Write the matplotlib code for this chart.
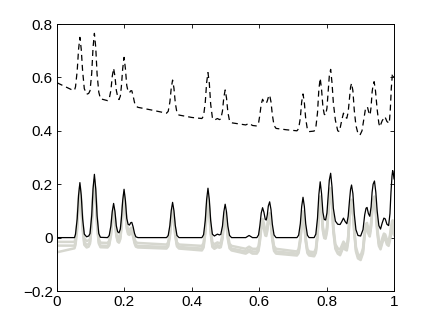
"""
Recreation of the peak / baseline chart (dashed shifted trace, black trace, grey traces)
"""
import matplotlib
matplotlib.use('Agg')
import matplotlib.pyplot as plt

# ---- data ----
# black (solid) trace
x_black = [0.000, 0.052, 0.055, 0.060, 0.064, 0.068, 0.072, 0.076, 0.081, 0.088, 0.094,
           0.098, 0.103, 0.107, 0.111, 0.115, 0.119, 0.124, 0.129, 0.150, 0.155, 0.160,
           0.164, 0.168, 0.172, 0.176, 0.180, 0.184, 0.188, 0.191, 0.195, 0.199, 0.203,
           0.207, 0.211, 0.215, 0.219, 0.222, 0.226, 0.230, 0.234, 0.240,
           0.325, 0.330, 0.335, 0.339, 0.343, 0.347, 0.351, 0.356, 0.362,
           0.430, 0.435, 0.440, 0.444, 0.448, 0.452, 0.456, 0.461, 0.467, 0.476, 0.482,
           0.486, 0.491, 0.495, 0.499, 0.503, 0.507, 0.512, 0.518,
           0.560, 0.570, 0.580, 0.593, 0.598, 0.602, 0.606, 0.610, 0.614, 0.618, 0.621,
           0.624, 0.627, 0.631, 0.635, 0.639, 0.644, 0.650,
           0.712, 0.717, 0.722, 0.726, 0.730, 0.734, 0.738, 0.743, 0.748,
           0.763, 0.768, 0.773, 0.777, 0.781, 0.785, 0.789, 0.793, 0.797, 0.801, 0.805,
           0.808, 0.812, 0.816, 0.820, 0.826, 0.833, 0.840, 0.845, 0.850, 0.855, 0.860,
           0.864, 0.868, 0.871, 0.874, 0.878, 0.882, 0.887, 0.893,
           0.901, 0.908, 0.913, 0.917, 0.920, 0.924, 0.928, 0.932, 0.935, 0.938, 0.942,
           0.946, 0.950, 0.955, 0.960, 0.965, 0.970, 0.974, 0.979, 0.984,
           0.988, 0.991, 0.994, 0.996, 0.998, 1.000]
y_black = [0.000, 0.000, 0.013, 0.071, 0.158, 0.206, 0.158, 0.071, 0.013, 0.003, 0.006,
           0.015, 0.082, 0.182, 0.237, 0.182, 0.082, 0.015, 0.001, 0.000, 0.008, 0.044,
           0.098, 0.128, 0.098, 0.044, 0.022, 0.018, 0.032, 0.070, 0.139, 0.181, 0.139,
           0.072, 0.050, 0.047, 0.056, 0.057, 0.040, 0.016, 0.003, 0.000,
           0.000, 0.008, 0.046, 0.101, 0.132, 0.101, 0.046, 0.008, 0.000,
           0.000, 0.011, 0.064, 0.142, 0.185, 0.142, 0.064, 0.013, 0.006, 0.013, 0.010,
           0.012, 0.043, 0.096, 0.125, 0.096, 0.043, 0.008, 0.000,
           0.000, 0.008, 0.000, 0.000, 0.010, 0.045, 0.092, 0.112, 0.095, 0.068, 0.066,
           0.085, 0.118, 0.134, 0.105, 0.050, 0.010, 0.000,
           0.000, 0.009, 0.052, 0.116, 0.151, 0.116, 0.052, 0.009, 0.000,
           0.000, 0.013, 0.073, 0.161, 0.209, 0.165, 0.095, 0.068, 0.066, 0.092, 0.160,
           0.215, 0.241, 0.190, 0.110, 0.062, 0.050, 0.049, 0.060, 0.073, 0.060, 0.052,
           0.080, 0.140, 0.180, 0.197, 0.165, 0.090, 0.030, 0.008,
           0.006, 0.030, 0.085, 0.110, 0.113, 0.090, 0.080, 0.115, 0.170, 0.200, 0.212,
           0.170, 0.100, 0.045, 0.032, 0.055, 0.073, 0.070, 0.050, 0.045,
           0.090, 0.170, 0.230, 0.251, 0.240, 0.220]

# grey traces (same x positions as the black trace)
y_grey1 = [-0.016, -0.016, -0.003, 0.055, 0.142, 0.190, 0.142, 0.055, -0.003, -0.013, -0.010,
           -0.005, 0.062, 0.162, 0.217, 0.162, 0.062, -0.005, -0.019, -0.020, -0.012, 0.024,
           0.078, 0.108, 0.078, 0.024, 0.002, -0.002, 0.012, 0.050, 0.119, 0.161, 0.119,
           0.052, 0.030, 0.027, 0.036, 0.037, 0.020, -0.004, -0.017, -0.020,
           -0.026, -0.018, 0.020, 0.075, 0.106, 0.075, 0.020, -0.018, -0.026,
           -0.031, -0.020, 0.033, 0.111, 0.154, 0.111, 0.033, -0.018, -0.025, -0.018, -0.021,
           -0.019, 0.012, 0.065, 0.094, 0.065, 0.012, -0.023, -0.031,
           -0.042, -0.034, -0.042, -0.042, -0.032, 0.003, 0.050, 0.070, 0.053, 0.026, 0.024,
           0.043, 0.076, 0.092, 0.063, 0.008, -0.032, -0.042,
           -0.052, -0.043, 0.000, 0.064, 0.099, 0.064, 0.000, -0.043, -0.052,
           -0.055, -0.042, 0.018, 0.106, 0.154, 0.110, 0.040, 0.013, 0.011, 0.037, 0.105,
           0.160, 0.186, 0.135, 0.040, -0.025, -0.040, -0.045, -0.030, -0.015, -0.025, -0.030,
           0.005, 0.085, 0.125, 0.142, 0.110, 0.035, -0.035, -0.062,
           -0.068, -0.040, 0.027, 0.052, 0.055, 0.032, 0.022, 0.057, 0.112, 0.142, 0.154,
           0.112, 0.042, -0.013, -0.026, -0.003, 0.015, 0.012, -0.008, -0.013,
           0.010, 0.040, 0.060, 0.065, 0.060, 0.050]
y_grey2 = [-0.030, -0.030, -0.017, 0.041, 0.128, 0.176, 0.128, 0.041, -0.017, -0.027, -0.024,
           -0.016, 0.051, 0.151, 0.206, 0.151, 0.051, -0.016, -0.030, -0.031, -0.023, 0.013,
           0.067, 0.097, 0.067, 0.013, -0.009, -0.013, 0.001, 0.039, 0.108, 0.150, 0.108,
           0.041, 0.019, 0.016, 0.025, 0.026, 0.009, -0.015, -0.028, -0.031,
           -0.035, -0.027, 0.011, 0.066, 0.097, 0.066, 0.011, -0.027, -0.035,
           -0.041, -0.030, 0.023, 0.101, 0.144, 0.101, 0.023, -0.028, -0.035, -0.028, -0.031,
           -0.029, 0.002, 0.055, 0.084, 0.055, 0.002, -0.033, -0.041,
           -0.052, -0.044, -0.052, -0.052, -0.042, -0.007, 0.040, 0.060, 0.043, 0.016, 0.014,
           0.033, 0.066, 0.082, 0.053, -0.002, -0.042, -0.052,
           -0.060, -0.051, -0.008, 0.056, 0.091, 0.056, -0.008, -0.051, -0.060,
           -0.064, -0.051, 0.009, 0.097, 0.145, 0.101, 0.031, 0.004, 0.002, 0.028, 0.096,
           0.151, 0.177, 0.126, 0.030, -0.035, -0.052, -0.057, -0.042, -0.027, -0.037, -0.040,
           -0.008, 0.076, 0.116, 0.133, 0.101, 0.026, -0.045, -0.070,
           -0.076, -0.050, 0.017, 0.042, 0.045, 0.022, 0.012, 0.047, 0.102, 0.132, 0.144,
           0.102, 0.032, -0.023, -0.036, -0.013, 0.005, 0.002, -0.018, -0.023,
           0.000, 0.025, 0.045, 0.050, 0.040, 0.030]
y_grey3 = [-0.055, -0.040, -0.027, 0.031, 0.118, 0.166, 0.118, 0.031, -0.027, -0.037, -0.034,
           -0.022, 0.045, 0.145, 0.200, 0.145, 0.045, -0.022, -0.036, -0.037, -0.029, 0.007,
           0.061, 0.091, 0.061, 0.007, -0.015, -0.019, -0.005, 0.033, 0.102, 0.144, 0.102,
           0.035, 0.013, 0.010, 0.019, 0.020, 0.003, -0.021, -0.034, -0.037,
           -0.041, -0.033, 0.005, 0.060, 0.091, 0.060, 0.005, -0.033, -0.041,
           -0.048, -0.037, 0.016, 0.094, 0.137, 0.094, 0.016, -0.035, -0.042, -0.035, -0.038,
           -0.036, -0.005, 0.048, 0.077, 0.048, -0.005, -0.040, -0.048,
           -0.060, -0.052, -0.060, -0.060, -0.050, -0.015, 0.032, 0.052, 0.035, 0.008, 0.006,
           0.025, 0.058, 0.074, 0.045, -0.010, -0.050, -0.060,
           -0.067, -0.058, -0.015, 0.049, 0.084, 0.049, -0.015, -0.058, -0.067,
           -0.070, -0.057, 0.003, 0.091, 0.139, 0.095, 0.025, -0.002, -0.004, 0.022, 0.090,
           0.145, 0.171, 0.120, 0.022, -0.042, -0.060, -0.066, -0.050, -0.035, -0.045, -0.048,
           -0.015, 0.070, 0.110, 0.127, 0.095, 0.020, -0.052, -0.078,
           -0.084, -0.058, 0.009, 0.034, 0.037, 0.014, 0.004, 0.039, 0.094, 0.124, 0.136,
           0.094, 0.024, -0.031, -0.044, -0.021, -0.003, -0.006, -0.026, -0.031,
           -0.010, 0.010, 0.025, 0.030, 0.020, 0.010]

# dashed (shifted) trace
x_dash = [0.000, 0.025, 0.045, 0.052, 0.055, 0.060, 0.064, 0.068, 0.072, 0.076, 0.081,
          0.088, 0.094, 0.098, 0.103, 0.107, 0.111, 0.115, 0.119, 0.124, 0.129, 0.150,
          0.155, 0.160, 0.164, 0.168, 0.172, 0.176, 0.180, 0.184, 0.188, 0.191, 0.195,
          0.199, 0.203, 0.207, 0.211, 0.215, 0.219, 0.222, 0.226, 0.230, 0.234, 0.240,
          0.280, 0.325, 0.330, 0.335, 0.339, 0.343, 0.347, 0.351, 0.356, 0.362, 0.400,
          0.430, 0.435, 0.440, 0.444, 0.448, 0.452, 0.456, 0.461, 0.467, 0.476, 0.482,
          0.486, 0.491, 0.495, 0.499, 0.503, 0.507, 0.512, 0.518, 0.560, 0.570, 0.580,
          0.593, 0.598, 0.602, 0.606, 0.610, 0.614, 0.618, 0.621, 0.624, 0.627, 0.631,
          0.635, 0.639, 0.644, 0.650, 0.680, 0.712, 0.717, 0.722, 0.726, 0.730, 0.734,
          0.738, 0.743, 0.748, 0.763, 0.768, 0.773, 0.777, 0.781, 0.785, 0.789, 0.793,
          0.797, 0.801, 0.805, 0.808, 0.812, 0.816, 0.820, 0.826, 0.833, 0.838, 0.845,
          0.850, 0.855, 0.860, 0.864, 0.868, 0.871, 0.874, 0.878, 0.882, 0.887, 0.893,
          0.899, 0.905, 0.910, 0.915, 0.921, 0.925, 0.929, 0.932, 0.935, 0.938, 0.941,
          0.945, 0.950, 0.955, 0.958, 0.965, 0.973, 0.979, 0.986, 0.989, 0.992, 0.995,
          0.997, 1.000]
y_dash = [0.580, 0.565, 0.553, 0.552, 0.565, 0.625, 0.705, 0.750, 0.705, 0.625, 0.558,
          0.537, 0.540, 0.550, 0.615, 0.712, 0.765, 0.712, 0.612, 0.545, 0.520, 0.513,
          0.520, 0.552, 0.604, 0.634, 0.604, 0.552, 0.528, 0.517, 0.530, 0.565, 0.633,
          0.675, 0.633, 0.570, 0.547, 0.543, 0.550, 0.550, 0.530, 0.506, 0.493, 0.488,
          0.478, 0.466, 0.473, 0.508, 0.560, 0.590, 0.560, 0.505, 0.467, 0.459, 0.450,
          0.446, 0.456, 0.507, 0.580, 0.618, 0.578, 0.500, 0.450, 0.440, 0.446, 0.442,
          0.444, 0.474, 0.525, 0.553, 0.523, 0.470, 0.437, 0.430, 0.422, 0.428, 0.420,
          0.418, 0.428, 0.460, 0.500, 0.518, 0.508, 0.505, 0.503, 0.512, 0.525, 0.534,
          0.508, 0.460, 0.420, 0.409, 0.404, 0.400, 0.408, 0.448, 0.508, 0.538, 0.505,
          0.445, 0.405, 0.397, 0.399, 0.412, 0.468, 0.555, 0.597, 0.555, 0.490, 0.462,
          0.459, 0.485, 0.553, 0.605, 0.630, 0.580, 0.505, 0.440, 0.400, 0.397, 0.440,
          0.466, 0.452, 0.447, 0.470, 0.525, 0.563, 0.578, 0.550, 0.478, 0.420, 0.390,
          0.384, 0.400, 0.440, 0.480, 0.490, 0.470, 0.459, 0.490, 0.545, 0.572, 0.584,
          0.550, 0.480, 0.428, 0.415, 0.438, 0.453, 0.435, 0.428, 0.480, 0.560, 0.610,
          0.615, 0.600]

x_ticks = [0, 0.2, 0.4, 0.6, 0.8, 1]
x_labels = ['0', '0.2', '0.4', '0.6', '0.8', '1']
y_ticks = [-0.2, 0, 0.2, 0.4, 0.6, 0.8]
y_labels = ['\u22120.2', '0', '0.2', '0.4', '0.6', '0.8']

plt.rcParams['font.family'] = ['Liberation Sans', 'DejaVu Sans']
plt.rcParams['lines.scale_dashes'] = False

fig = plt.figure(figsize=(4.36, 3.28), dpi=100)
ax = fig.add_axes([0.1307, 0.1128, 0.773, 0.814])

grey = '#d6d7cf'
ax.plot(x_black, y_grey3, color=grey, linewidth=1.8, solid_joinstyle='round')
ax.plot(x_black, y_grey2, color=grey, linewidth=1.8, solid_joinstyle='round')
ax.plot(x_black, y_grey1, color=grey, linewidth=1.8, solid_joinstyle='round')
ax.plot(x_black, y_black, color='black', linewidth=0.9)
ax.plot(x_dash, y_dash, color='black', linewidth=0.9, linestyle=(0, (4.3, 2.9)))

ax.set_xlim(0, 1)
ax.set_ylim(-0.2, 0.8)
ax.set_xticks(x_ticks)
ax.set_xticklabels(x_labels)
ax.set_yticks(y_ticks)
ax.set_yticklabels(y_labels)
ax.tick_params(direction='in', length=3, width=0.6, top=True, right=True,
               labelsize=11, pad=3)
for s in ax.spines.values():
    s.set_linewidth(0.7)

plt.savefig('out.png', dpi=100)
